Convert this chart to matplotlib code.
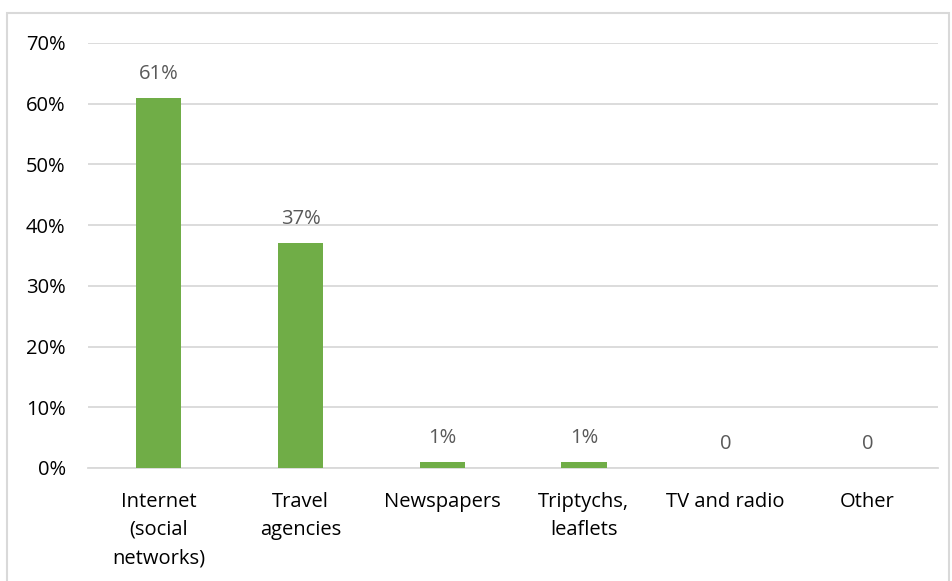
import matplotlib.pyplot as plt
from matplotlib.patches import Rectangle

categories = ["Internet\n(social\nnetworks)", "Travel\nagencies", "Newspapers",
              "Triptychs,\nleaflets", "TV and radio", "Other"]
values = [61, 37, 1, 1, 0, 0]
labels = ["61%", "37%", "1%", "1%", "0", "0"]
yticks = [0, 10, 20, 30, 40, 50, 60, 70]

plt.rcParams['font.family'] = ['Open Sans', 'DejaVu Sans']

fig = plt.figure(figsize=(9.52, 5.81), dpi=100)
ax = fig.add_axes([0.0924, 0.1945, 0.893, 0.7315])

# outer chart border
fig.patches.append(Rectangle((7/952, -0.05), 942/952, 1 - 13/581 + 0.05,
                             transform=fig.transFigure, fill=False,
                             edgecolor='#D9D9D9', linewidth=1.5))

x = range(len(categories))
ax.bar(x, values, width=0.32, color='#70AD47', zorder=3)

for i, (v, t) in enumerate(zip(values, labels)):
    ax.annotate(t, (i, v), xytext=(0, 10), textcoords='offset points',
                ha='center', va='bottom', fontsize=14.5, color='#595959')

ax.set_xlim(-0.5, len(categories) - 0.5)
ax.set_ylim(0, 70)
ax.set_yticks(yticks)
ax.set_yticklabels([f"{t}%" for t in yticks], fontsize=14.5, color='#000000')
ax.set_xticks(list(x))
ax.set_xticklabels(categories, fontsize=14.5, color='#000000', linespacing=1.55)
ax.tick_params(axis='y', length=0, pad=16)
ax.tick_params(axis='x', length=0, pad=17)

ax.grid(axis='y', color='#D9D9D9', linewidth=1.3, zorder=0)
for s in ['top', 'right', 'left']:
    ax.spines[s].set_visible(False)
ax.spines['bottom'].set_color('#D9D9D9')
ax.spines['bottom'].set_linewidth(1.3)

plt.savefig("out.png", dpi=100)
